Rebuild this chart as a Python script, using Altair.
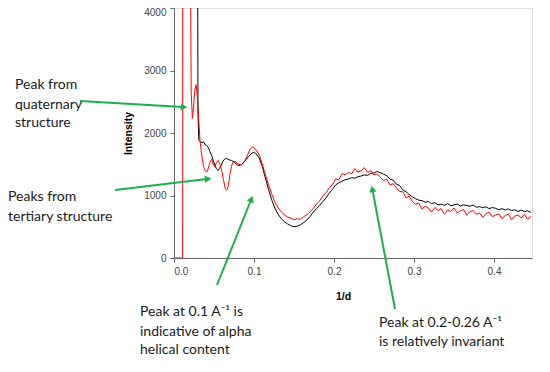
import altair as alt
import pandas as pd

# ---------------- data ----------------
red_x_left = [0.0, 0.0108, 0.0110, 0.0200, 0.0206, 0.0215, 0.0230, 0.0245, 0.0260, 0.0275,
              0.0290, 0.0310, 0.0325, 0.0350, 0.0370, 0.0390, 0.0410, 0.0430, 0.0450, 0.0470,
              0.0490, 0.0510, 0.0530, 0.0555, 0.0580, 0.0600, 0.0620, 0.0640, 0.0660, 0.0680,
              0.0700, 0.0720, 0.0740, 0.0770, 0.0800, 0.0830, 0.0860, 0.0890, 0.0920, 0.0950,
              0.0980, 0.1000, 0.1020]
red_y_left = [0, 0, 9000, 9000, 4600, 2650, 2235, 2420, 2680, 2775,
              2620, 2200, 1880, 1620, 1460, 1395, 1375, 1440, 1530, 1580,
              1500, 1460, 1530, 1560, 1480, 1380, 1240, 1110, 1085, 1160,
              1340, 1480, 1535, 1545, 1505, 1490, 1505, 1565, 1650, 1740,
              1775, 1768, 1735]

black_x_left = [0.0280, 0.0296, 0.0300, 0.0310, 0.0330, 0.0350, 0.0370, 0.0390, 0.0410, 0.0430,
                0.0450, 0.0470, 0.0490, 0.0510, 0.0530, 0.0550, 0.0570, 0.0590, 0.0610, 0.0630,
                0.0660, 0.0690, 0.0720, 0.0750, 0.0780, 0.0810, 0.0840, 0.0870, 0.0900, 0.0930,
                0.0960, 0.0990, 0.1020]
black_y_left = [9000, 4500, 2300, 1890, 1855, 1845, 1860, 1815, 1800, 1765,
                1700, 1645, 1560, 1485, 1430, 1400, 1435, 1480, 1545, 1580,
                1592, 1570, 1560, 1540, 1500, 1478, 1492, 1530, 1572, 1620,
                1662, 1690, 1675]

# regularly sampled tail, 1/d = 0.106 ... 0.446 (step 0.004)
tail_x = [round(0.106 + 0.004 * i, 3) for i in range(86)]
red_y_tail = [1665, 1515, 1345, 1175, 1030, 900, 805, 740, 690, 655,
              640, 612, 628, 620, 660, 690, 740, 790, 860, 915,
              990, 1045, 1120, 1170,
              1265, 1250, 1350, 1330, 1370, 1345, 1430, 1375, 1400, 1445,
              1370, 1395, 1330, 1345, 1290, 1240, 1260, 1170, 1190, 1120,
              1065, 1060, 960, 990, 905, 860, 880, 780, 830, 800,
              735, 810, 760, 790, 700, 770, 745, 800, 720, 755,
              775, 690, 740, 760, 700, 720, 650, 710, 730, 660,
              690, 705, 630, 680, 700, 610, 670, 690, 640, 700,
              620, 665]
black_y_tail = [1610, 1478, 1292, 1108, 935, 800, 702, 630, 582, 545,
                518, 500, 510, 532, 566, 606, 665, 732, 790, 840,
                902, 962, 1035, 1095,
                1168, 1205, 1230, 1252, 1262, 1285, 1278, 1300, 1312, 1330,
                1322, 1355, 1360, 1385, 1365, 1340, 1318, 1262, 1245, 1180,
                1160, 1090, 1060, 1015, 978, 950, 925, 918, 892, 905,
                870, 885, 850, 862, 842, 870, 838, 848, 865, 832,
                850, 840, 828, 848, 812, 822, 805, 820, 790, 808,
                795, 772, 790, 768, 785, 760, 772, 745, 768, 742,
                755, 730]

y_ticks = [0, 1000, 2000, 3000, 4000]
x_ticks = [0.0, 0.1, 0.2, 0.3, 0.4]

# annotations (data coordinates)
note_text = ["Peak from", "quaternary", "structure",
             "Peaks from", "tertiary structure",
             "Peak at 0.1 A\u207b\u00b9 is", "indicative of alpha", "helical content",
             "Peak at 0.2-0.26 A\u207b\u00b9", "is relatively invariant"]
note_x = [-0.19875, -0.19875, -0.19875, -0.2075, -0.2075,
          -0.0425, -0.0425, -0.0425, 0.25625, 0.25625]
note_y = [2768, 2448, 2160, 976, 656, -864, -1184, -1472, -1040, -1344]

arrow_x0 = [-0.1175, -0.07375, 0.05375, 0.27625]
arrow_y0 = [2512, 1088, -432, -816]
arrow_x1 = [0.01125, 0.04125, 0.09625, 0.248125]
arrow_y1 = [2416, 1264, 928, 1088]
arrow_ang = [93, 83, 22, 349]

# ---------------- tables ----------------
red_df = pd.DataFrame({"x": red_x_left + tail_x, "y": red_y_left + red_y_tail})
black_df = pd.DataFrame({"x": black_x_left + tail_x, "y": black_y_left + black_y_tail})
notes_df = pd.DataFrame({"x": note_x, "y": note_y, "t": note_text})
arrows_df = pd.DataFrame({"x": arrow_x0, "y": arrow_y0, "x2": arrow_x1, "y2": arrow_y1,
                          "ang": arrow_ang})

x_scale = alt.Scale(domain=[0, 0.4475], nice=False, zero=False)
y_scale = alt.Scale(domain=[0, 4000], nice=False)

GREEN = "#1fae4b"

x_axis = alt.Axis(values=x_ticks, format=".1f", title="1/d", grid=False,
                  tickSize=4, labelPadding=4, labelFontSize=10, labelColor="#444",
                  titleFontSize=10.5, titleFontWeight="bold", titleColor="#000",
                  titlePadding=15, titleX=169, titleAlign="center",
                  domainColor="#666", tickColor="#666")
y_axis = alt.Axis(values=y_ticks, format="d", title="Intensity", grid=False,
                  tickSize=4, labelPadding=4, labelFontSize=10, labelColor="#444",
                  labelOffset={"condition": {"test": "datum.value === 4000", "value": 4},
                               "value": 0},
                  titleFontSize=10.5, titleFontWeight="bold", titleColor="#000",
                  titlePadding=10,
                  domainColor="#666", tickColor="#666")


def X(field):
    return alt.X(field, type="quantitative", scale=x_scale, axis=x_axis)


def Y(field):
    return alt.Y(field, type="quantitative", scale=y_scale, axis=y_axis)


black_line = alt.Chart(black_df).mark_line(color="#000000", strokeWidth=1, clip=True).encode(
    x=X("x"), y=Y("y"), order="x:Q",
)
red_line = alt.Chart(red_df).mark_line(color="#ff0000", strokeWidth=1, clip=True).encode(
    x=X("x"), y=Y("y"), order="x:Q",
)

arrow_lines = alt.Chart(arrows_df).mark_rule(color=GREEN, strokeWidth=2).encode(
    x=X("x"), y=Y("y"), x2="x2:Q", y2="y2:Q",
)
arrow_heads = alt.Chart(arrows_df).mark_point(
    shape="triangle", filled=True, color=GREEN, opacity=1, size=55
).encode(
    x=X("x2"), y=Y("y2"), angle=alt.Angle("ang:Q", scale=None),
)

notes = alt.Chart(notes_df).mark_text(
    align="left", baseline="middle", font="Lato", fontSize=14, color="#1a1a1a"
).encode(
    x=X("x"), y=Y("y"), text="t:N",
)

chart = alt.layer(black_line, red_line, arrow_lines, arrow_heads, notes).properties(
    width=358,
    height=250,
    autosize=alt.AutoSizeParams(type="none"),
    padding={"left": 166, "top": 0, "right": 10, "bottom": 106},
).configure_view(
    stroke="#aaaaaa", strokeWidth=1
).configure_axis(
    labelFont="Liberation Sans", titleFont="Liberation Sans"
).configure(background="white")

chart.save("out.html", embed_options={"renderer": "svg", "actions": False})
